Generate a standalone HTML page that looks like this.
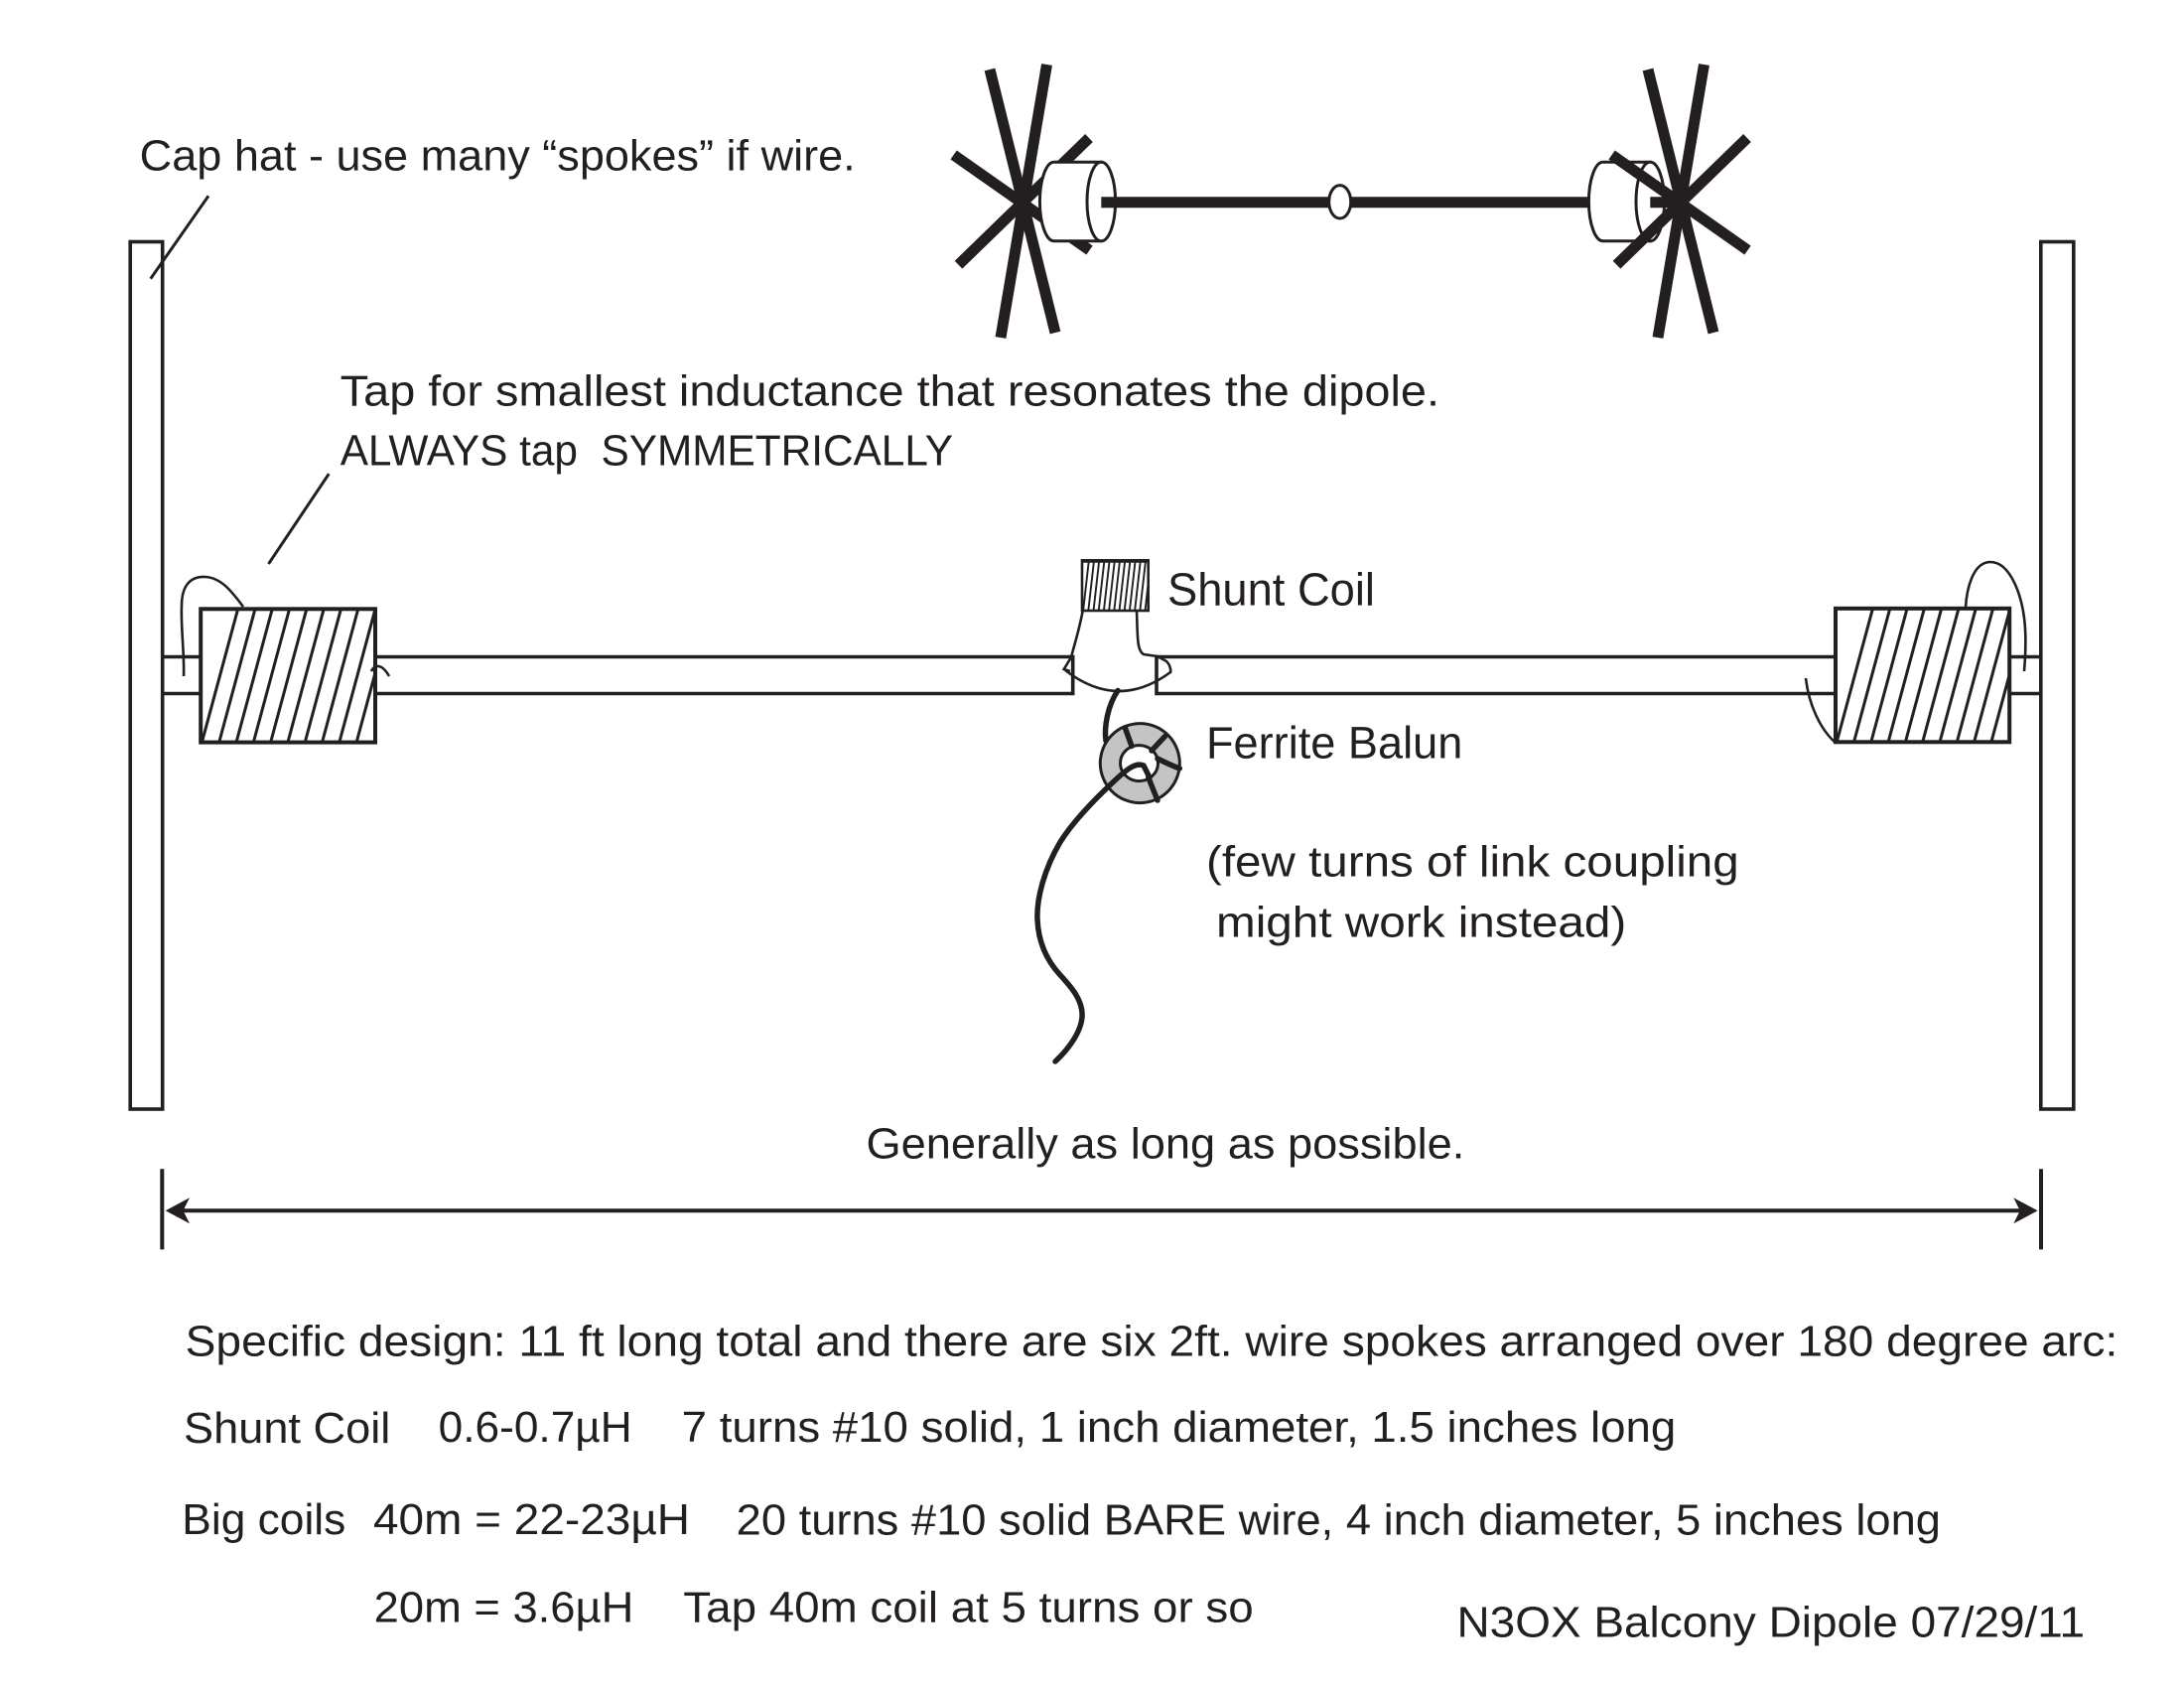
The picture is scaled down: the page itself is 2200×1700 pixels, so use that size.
<!DOCTYPE html>
<html>
<head>
<meta charset="utf-8">
<style>
html,body{margin:0;padding:0;background:#fff;}
svg{display:block;}
text{font-family:"Liberation Sans", Arial, sans-serif;fill:#231f20;}
</style>
</head>
<body>
<svg width="2200" height="1700" viewBox="0 0 2200 1700" xmlns="http://www.w3.org/2000/svg">
<rect x="0" y="0" width="2200" height="1700" fill="#fff"/>
<defs>
  <clipPath id="cl"><rect x="202.2" y="613.3" width="175.8" height="134.3"/></clipPath>
  <clipPath id="cr"><rect x="1849" y="612.8" width="175.2" height="134.5"/></clipPath>
  <clipPath id="cs"><rect x="1090" y="564.3" width="66.7" height="50.7"/></clipPath>
</defs>

<g stroke="#231f20" fill="none">

<!-- ===== Cap hat illustration (top) ===== -->
<!-- left star lines -->
<g stroke-width="11" stroke-linecap="butt">
  <line x1="997" y1="70" x2="1063" y2="335"/>
  <line x1="1054.5" y1="65" x2="1008" y2="340"/>
  <line x1="960.6" y1="156" x2="1097.5" y2="252"/>
  <line x1="965.5" y1="266.7" x2="1097" y2="139"/>
</g>
<!-- shaft -->
<line x1="1109.3" y1="203.8" x2="1603" y2="203.8" stroke-width="11"/>
<!-- left cylinder -->
<path d="M1109.3,163.3 L1061.7,163.3 A14.3,39.7 0 0 0 1061.7,242.7 L1109.3,242.7 Z" fill="#fff" stroke-width="3"/>
<ellipse cx="1109.3" cy="203" rx="14.3" ry="39.7" fill="#fff" stroke-width="3"/>
<line x1="1109.3" y1="203.8" x2="1125" y2="203.8" stroke-width="11"/>
<!-- oval -->
<ellipse cx="1349.7" cy="203.3" rx="11" ry="16.7" fill="#fff" stroke-width="3"/>
<!-- right cylinder -->
<path d="M1662.3,163.3 L1614.7,163.3 A14.3,39.7 0 0 0 1614.7,242.7 L1662.3,242.7 Z" fill="#fff" stroke-width="3"/>
<ellipse cx="1662.3" cy="203" rx="14.3" ry="39.7" fill="#fff" stroke-width="3"/>
<line x1="1662.3" y1="203.8" x2="1692" y2="203.8" stroke-width="11"/>
<!-- right star lines -->
<g stroke-width="11" stroke-linecap="butt">
  <line x1="1660" y1="70" x2="1726" y2="335"/>
  <line x1="1716.5" y1="65" x2="1670" y2="340"/>
  <line x1="1623.6" y1="156" x2="1760.5" y2="252"/>
  <line x1="1628.5" y1="266.7" x2="1760" y2="139"/>
</g>

<!-- ===== Masts ===== -->
<rect x="131.2" y="243.5" width="32.5" height="873.5" stroke-width="3.6" fill="#fff"/>
<rect x="2055.8" y="243.5" width="33" height="873.5" stroke-width="3.6" fill="#fff"/>

<!-- leaders -->
<line x1="210" y1="197.3" x2="151.7" y2="280.7" stroke-width="3"/>
<line x1="331.3" y1="477.2" x2="270.5" y2="567.9" stroke-width="3"/>

<!-- ===== Boom ===== -->
<g stroke-width="3.6">
  <path d="M163.7,661.5 L1080.7,661.5 L1080.7,698.5 L163.7,698.5"/>
  <path d="M2055.8,661.5 L1165,661.5 L1165,698.5 L2055.8,698.5"/>
</g>

<!-- ===== Left big coil ===== -->
<rect x="202.2" y="613.3" width="175.8" height="134.3" fill="#fff" stroke-width="4"/>
<g clip-path="url(#cl)" stroke-width="3">
  <line x1="203.3" y1="748" x2="240" y2="612"/>
  <line x1="220.6" y1="748" x2="257.3" y2="612"/>
  <line x1="237.9" y1="748" x2="274.6" y2="612"/>
  <line x1="255.2" y1="748" x2="291.9" y2="612"/>
  <line x1="272.5" y1="748" x2="309.2" y2="612"/>
  <line x1="289.8" y1="748" x2="326.5" y2="612"/>
  <line x1="307.1" y1="748" x2="343.8" y2="612"/>
  <line x1="324.4" y1="748" x2="361.1" y2="612"/>
  <line x1="341.7" y1="748" x2="378.4" y2="612"/>
  <line x1="359" y1="748" x2="395.7" y2="612"/>
</g>
<path d="M245,611 C235,598 224,582 207,581 C190,580 183,592 183,610 C182,632 186,660 185,681" stroke-width="2.6"/>
<path d="M374,676 C377,670 384,667 392,681" stroke-width="2.6"/>

<!-- ===== Right big coil ===== -->
<rect x="1849" y="612.8" width="175.2" height="134.5" fill="#fff" stroke-width="4"/>
<g clip-path="url(#cr)" stroke-width="3">
  <line x1="1850" y1="748" x2="1886.7" y2="612"/>
  <line x1="1867.3" y1="748" x2="1904" y2="612"/>
  <line x1="1884.6" y1="748" x2="1921.3" y2="612"/>
  <line x1="1901.9" y1="748" x2="1938.6" y2="612"/>
  <line x1="1919.2" y1="748" x2="1955.9" y2="612"/>
  <line x1="1936.5" y1="748" x2="1973.2" y2="612"/>
  <line x1="1953.8" y1="748" x2="1990.5" y2="612"/>
  <line x1="1971.1" y1="748" x2="2007.8" y2="612"/>
  <line x1="1988.4" y1="748" x2="2025.1" y2="612"/>
  <line x1="2005.7" y1="748" x2="2042.4" y2="612"/>
</g>
<path d="M1980,612 C1981,594 1987,566 2005,566 C2025,566 2038,600 2040,633 C2041,650 2040,664 2039,676" stroke-width="2.6"/>
<path d="M1819,683 C1822,710 1834,735 1849,748" stroke-width="2.6"/>

<!-- ===== Shunt coil & feed ===== -->
<rect x="1090" y="564.3" width="66.7" height="50.7" fill="#fff" stroke-width="2.6"/>
<line x1="1090" y1="565" x2="1156.7" y2="565" stroke-width="3.5"/>
<g clip-path="url(#cs)" stroke-width="1.9">
  <line x1="1091" y1="616" x2="1097" y2="563"/>
  <line x1="1096.2" y1="616" x2="1102.2" y2="563"/>
  <line x1="1101.4" y1="616" x2="1107.4" y2="563"/>
  <line x1="1106.6" y1="616" x2="1112.6" y2="563"/>
  <line x1="1111.8" y1="616" x2="1117.8" y2="563"/>
  <line x1="1117" y1="616" x2="1123" y2="563"/>
  <line x1="1122.2" y1="616" x2="1128.2" y2="563"/>
  <line x1="1127.4" y1="616" x2="1133.4" y2="563"/>
  <line x1="1132.6" y1="616" x2="1138.6" y2="563"/>
  <line x1="1137.8" y1="616" x2="1143.8" y2="563"/>
  <line x1="1143" y1="616" x2="1149" y2="563"/>
  <line x1="1148.2" y1="616" x2="1154.2" y2="563"/>
  <line x1="1153.4" y1="616" x2="1159.4" y2="563"/>
</g>
<g stroke-width="2.6">
  <path d="M1090.7,615 C1087,635 1082,650 1079,662 L1071.7,674 L1078,676"/>
  <path d="M1073,675 Q1126,716 1179,677"/>
  <path d="M1145,615 C1146,640 1145,655 1152,659 L1166,661 L1175,666 Q1180,671 1179,678"/>
</g>
<path d="M1126,695.5 C1116,710 1112,732 1114,746" stroke-width="5.5" stroke-linecap="round"/>
<!-- ferrite ring -->
<circle cx="1148.3" cy="768.6" r="40" fill="#c4c4c4" stroke-width="3"/>
<ellipse cx="1147.5" cy="768.6" rx="19" ry="18" fill="#fff" stroke-width="3"/>
<g stroke-width="5.5" stroke-linecap="round">
  <line x1="1133.3" y1="733" x2="1140" y2="751.4"/>
  <line x1="1173.3" y1="741.8" x2="1160" y2="756"/>
  <path d="M1166,764 C1174,768 1180,771 1188.3,773.9"/>
  <line x1="1156.7" y1="782.9" x2="1166" y2="806"/>
  <path d="M1158,783 L1152,771 C1145,768 1138,772 1123,786 C1108,800 1083,824 1068,848 C1052,875 1044,905 1045,926 C1046,950 1055,968 1068,982 C1080,995 1091,1008 1090,1024 C1089,1040 1075,1058 1063,1069"/>
</g>

<!-- ===== Dimension arrow ===== -->
<line x1="180" y1="1219.3" x2="2040" y2="1219.3" stroke-width="4"/>
<line x1="163.3" y1="1177.3" x2="163.3" y2="1258.4" stroke-width="4"/>
<line x1="2056" y1="1177.3" x2="2056" y2="1258.4" stroke-width="4"/>
</g>
<path d="M166.7,1219.3 L191,1206.3 L184.5,1219.3 L191,1232.3 Z" fill="#231f20"/>
<path d="M2052.6,1219.3 L2028.3,1206.3 L2034.8,1219.3 L2028.3,1232.3 Z" fill="#231f20"/>

<!-- ===== Text ===== -->
<g font-size="44">
<text x="140.7" y="171.7" textLength="721" lengthAdjust="spacingAndGlyphs">Cap hat - use many “spokes” if wire.</text>
<text x="342.7" y="408.3" textLength="1107.3" lengthAdjust="spacingAndGlyphs">Tap for smallest inductance that resonates the dipole.</text>
<text x="342.7" y="468.3" textLength="617.3" lengthAdjust="spacingAndGlyphs" xml:space="preserve">ALWAYS tap  SYMMETRICALLY</text>
<text x="1176" y="609.6" font-size="46" textLength="209" lengthAdjust="spacingAndGlyphs">Shunt Coil</text>
<text x="1215" y="763.5" font-size="45" textLength="258.3" lengthAdjust="spacingAndGlyphs">Ferrite Balun</text>
<text x="1215" y="882.5" textLength="536.7" lengthAdjust="spacingAndGlyphs">(few turns of link coupling</text>
<text x="1225" y="943.6" textLength="413.3" lengthAdjust="spacingAndGlyphs">might work instead)</text>
<text x="872.5" y="1166.7" textLength="602.8" lengthAdjust="spacingAndGlyphs">Generally as long as possible.</text>
<text x="186.7" y="1365.7" textLength="1946.6" lengthAdjust="spacingAndGlyphs">Specific design: 11 ft long total and there are six 2ft. wire spokes arranged over 180 degree arc:</text>
<text x="185" y="1453" textLength="208.3" lengthAdjust="spacingAndGlyphs">Shunt Coil</text>
<text x="441.7" y="1452" textLength="195" lengthAdjust="spacingAndGlyphs">0.6-0.7µH</text>
<text x="686.7" y="1452" textLength="1001.6" lengthAdjust="spacingAndGlyphs">7 turns #10 solid, 1 inch diameter, 1.5 inches long</text>
<text x="183.3" y="1545" textLength="165" lengthAdjust="spacingAndGlyphs">Big coils</text>
<text x="376" y="1545" textLength="319" lengthAdjust="spacingAndGlyphs">40m = 22-23µH</text>
<text x="741.7" y="1545.5" textLength="1213.3" lengthAdjust="spacingAndGlyphs">20 turns #10 solid BARE wire, 4 inch diameter, 5 inches long</text>
<text x="376.7" y="1633.3" textLength="261.6" lengthAdjust="spacingAndGlyphs">20m = 3.6µH</text>
<text x="688.3" y="1633.3" textLength="574.4" lengthAdjust="spacingAndGlyphs">Tap 40m coil at 5 turns or so</text>
<text x="1467.5" y="1648.3" textLength="632.5" lengthAdjust="spacingAndGlyphs">N3OX Balcony Dipole 07/29/11</text>
</g>
</svg>
</body>
</html>
